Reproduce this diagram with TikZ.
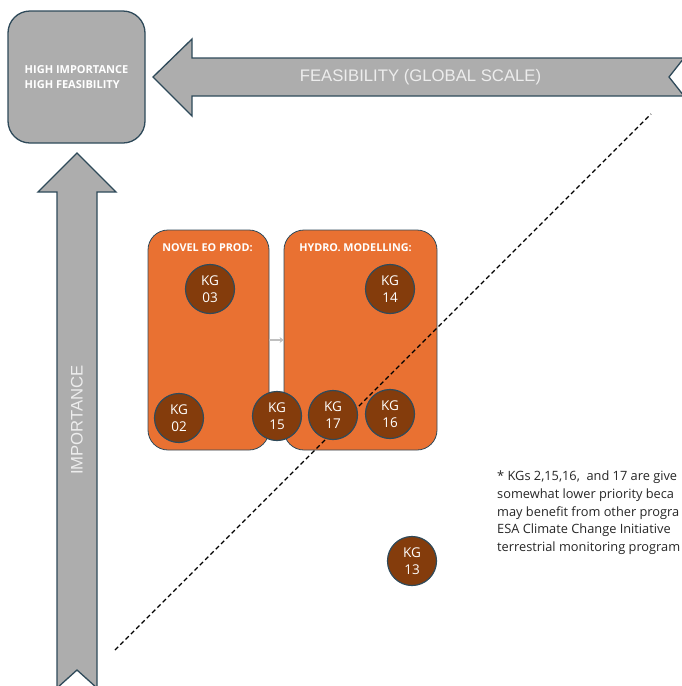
\documentclass[tikz,border=0pt]{standalone}
\usepackage{fontspec}
\setmainfont{Open Sans}
\newfontfamily\axisfont{Liberation Sans}
\usetikzlibrary{arrows.meta}

\definecolor{slate}{HTML}{2F4A5A}
\definecolor{axisgray}{HTML}{ADADAD}
\definecolor{boxorange}{HTML}{E97132}
\definecolor{kgbrown}{HTML}{843C0C}
\definecolor{paletext}{HTML}{EDEDED}
\definecolor{linkgray}{HTML}{BFBFBF}
\definecolor{notetext}{HTML}{262626}

\tikzset{
  axisarrow/.style={fill=axisgray, draw=slate, line width=1.3pt, line join=miter},
  axislabel/.style={text=paletext, font=\axisfont\fontsize{16.7}{19}\selectfont, inner sep=0pt},
  cornerbox/.style={draw=slate, line width=1.3pt, fill=axisgray, rounded corners=22pt,
    minimum width=137pt, minimum height=132pt, inner sep=0pt, align=left,
    text=white, font=\bfseries\fontsize{11}{14.5}\selectfont},
  groupbox/.style={draw=slate, line width=0.8pt, fill=boxorange, rounded corners=20pt,
    minimum height=220pt, inner sep=0pt},
  grouplabel/.style={text=white, font=\bfseries\fontsize{10.8}{12}\selectfont, inner sep=0pt},
  kg/.style={circle, draw=slate, line width=1.2pt, fill=kgbrown, minimum size=49pt,
    inner sep=0pt, text=white, align=center, font=\fontsize{13.5}{17}\selectfont},
  divider/.style={dash pattern=on 4.5pt off 3pt, line width=1.3pt, black},
  link/.style={draw=linkgray, line width=1.5pt, -{Stealth[length=4pt,width=6pt]}},
  note/.style={text=notetext, align=left, inner sep=0pt,
    font=\fontsize{12.8}{17.6}\selectfont}
}

\begin{document}
\begin{tikzpicture}[x=1pt,y=-1pt]
\clip (0,0) rectangle (682,686);

% feasibility axis (points left, notched tail beyond the right edge)
\draw[axisarrow] (153,77) -- (192,39) -- (192,58) -- (684,58) -- (669,77)
  -- (684,96) -- (192,96) -- (192,116) -- cycle;
\node[axislabel] (feas) at (420.5,77) {FEASIBILITY (GLOBAL SCALE)};

% importance axis (points up, notched tail below the bottom edge)
\draw[axisarrow] (77,153) -- (116,192) -- (97,192) -- (97,688) -- (77,670)
  -- (57,688) -- (57,192) -- (38,192) -- cycle;
\node[axislabel, rotate=90] (imp) at (77,420) {IMPORTANCE};

% target corner
\node[cornerbox] (corner) at (76.5,77) {HIGH IMPORTANCE\\HIGH FEASIBILITY};

% thematic groups
\node[groupbox, minimum width=121pt] (novel) at (208.5,340) {};
\node[groupbox, minimum width=153pt] (hydro) at (360.5,340) {};
\node[grouplabel] (novellabel) at (207.5,248) {NOVEL EO PROD:};
\node[grouplabel] (hydrolabel) at (355.5,248) {HYDRO. MODELLING:};
\draw[link] (novel) -- (hydro);

% priority divider
\coordinate (dlow) at (115,650);
\coordinate (dhigh) at (651,114);
\draw[divider] (dlow) -- (dhigh);

% knowledge gaps
\node[kg] (kg03) at (210,289) {KG\\03};
\node[kg] (kg14) at (390,289) {KG\\14};
\node[kg] (kg02) at (179,418) {KG\\02};
\node[kg] (kg15) at (277,416) {KG\\15};
\node[kg] (kg17) at (333,415) {KG\\17};
\node[kg] (kg16) at (390,414) {KG\\16};
\node[kg] (kg13) at (412,561) {KG\\13};

% footnote
\node[note, anchor=north west] (footnote) at (497,471) {%
* KGs 2,15,16,\ \ and 17 are give\\
somewhat lower priority beca\\
may benefit from other progra\\
ESA Climate Change Initiative\\
terrestrial monitoring program};
\end{tikzpicture}
\end{document}
